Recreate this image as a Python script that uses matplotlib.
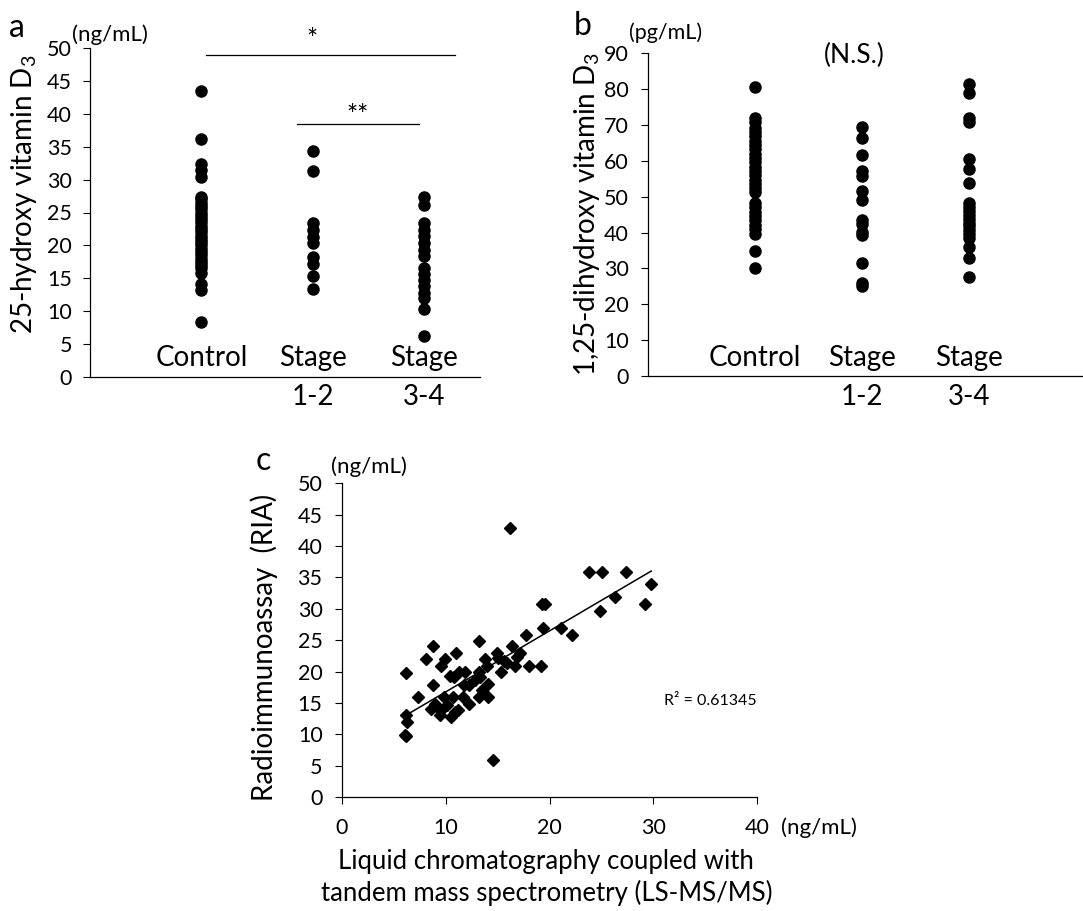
import numpy as np
import matplotlib
matplotlib.use('Agg')
import matplotlib.pyplot as plt
import matplotlib.transforms as mtransforms

plt.rcParams['font.family'] = ['Lato', 'DejaVu Sans']
plt.rcParams['mathtext.fontset'] = 'custom'
plt.rcParams['mathtext.rm'] = 'Lato'
plt.rcParams['mathtext.it'] = 'Lato:italic'

# ---- data ----
groups = ['Control', 'Stage', 'Stage']
group_sub = ['', '1-2', '3-4']

# a: 25-hydroxy vitamin D3 (ng/mL)
a_control = [43.5, 36.2, 32.3, 31.4, 30.4, 27.4, 27.0, 26.5, 26.0, 25.5, 25.0,
             24.5, 24.0, 23.5, 23.0, 22.5, 22.0, 21.5, 21.0, 20.5, 20.0, 19.5,
             19.0, 18.5, 18.0, 17.5, 17.0, 16.5, 15.8, 14.2, 13.2, 8.4]
a_stage12 = [34.3, 31.3, 23.4, 22.3, 21.3, 20.3, 18.3, 17.2, 15.3, 13.3]
a_stage34 = [27.4, 26.2, 23.4, 22.4, 21.4, 20.3, 19.3, 18.4, 16.5, 15.7,
             14.8, 13.8, 12.8, 12.0, 10.4, 6.3]

# b: 1,25-dihydroxy vitamin D3 (pg/mL)
b_control = [80.5, 72.0, 70.8, 69.2, 68.0, 66.8, 65.6, 64.4, 63.2, 62.0, 60.8,
             59.6, 58.4, 57.2, 56.0, 54.8, 53.6, 52.4, 51.4, 48.2, 47.0, 45.8,
             44.6, 43.4, 42.2, 41.0, 39.6, 34.8, 30.2]
b_stage12 = [69.5, 66.3, 61.6, 57.2, 55.8, 51.7, 49.0, 43.5, 42.4, 40.2,
             39.2, 31.4, 26.0, 25.0]
b_stage34 = [81.5, 78.8, 72.0, 70.8, 60.4, 57.7, 53.9, 48.3, 47.2, 46.1,
             45.0, 43.9, 42.8, 41.7, 40.6, 39.5, 38.6, 36.0, 32.8, 27.5]

# c: LC-MS/MS vs RIA (ng/mL)
lcms = [6.2, 6.2, 6.3, 6.1, 6.2, 7.3, 8.1, 8.8, 8.8, 8.6, 9.0, 9.5, 9.9, 9.5,
        9.4, 9.8, 10.1, 10.5, 10.7, 10.8, 11.0, 11.2, 11.3, 11.7, 11.9, 11.8,
        12.2, 12.2, 13.2, 13.2, 13.3, 13.2, 13.5, 13.8, 14.0, 14.1, 14.1, 14.6,
        14.9, 15.3, 15.6, 16.2, 16.4, 16.7, 16.9, 17.2, 17.7, 18.0, 19.2, 19.3,
        19.6, 19.4, 21.1, 22.2, 23.8, 25.1, 24.9, 26.3, 27.4, 29.2, 29.8,
        10.4, 10.9, 12.8, 15.0, 15.9, 9.2]
ria = [19.8, 13.0, 11.9, 9.9, 9.7, 15.9, 22.0, 24.0, 17.9, 14.0, 14.9, 20.9,
       22.0, 13.8, 13.0, 15.9, 14.6, 12.8, 15.9, 19.1, 22.9, 13.8, 19.9, 15.9,
       19.9, 17.9, 17.9, 14.8, 24.8, 19.9, 19.1, 15.9, 17.0, 22.0, 20.9, 18.0,
       15.9, 5.9, 23.0, 19.9, 21.7, 42.9, 24.0, 20.9, 22.3, 23.0, 25.9, 20.9,
       20.9, 30.8, 30.8, 27.0, 27.0, 25.9, 35.9, 35.9, 29.7, 31.9, 35.9, 30.8,
       33.9, 19.3, 13.6, 18.6, 22.2, 21.4, 14.3]
trend_slope = 0.972
trend_intercept = 7.04
r2_text = 'R² = 0.61345'

fig = plt.figure(figsize=(10.83, 9.11), dpi=100)
W, H = 1083.0, 911.0

TICK_FS = 15.5
CAT_FS = 20
LABEL_FS = 20
UNIT_FS = 16


def fx(px):
    return px / W


def fy(py):
    return 1 - py / H


def style_axes(ax, pad):
    for s in ['top', 'right']:
        ax.spines[s].set_visible(False)
    for s in ['left', 'bottom']:
        ax.spines[s].set_linewidth(0.9)
    ax.tick_params(axis='y', direction='out', length=5, width=0.8,
                   labelsize=TICK_FS, pad=pad)


def strip_panel(ax, series, ylim, ystep, y_in, y_out):
    positions = [1, 2, 3]
    for pos, vals in zip(positions, series):
        ax.plot([pos] * len(vals), vals, 'o', color='black', markersize=8,
                linestyle='none', clip_on=False)
    ax.set_ylim(*ylim)
    ax.set_yticks(np.arange(ylim[0], ylim[1] + 1, ystep))
    ax.set_xticks([])
    trans = mtransforms.blended_transform_factory(ax.transData, ax.transAxes)
    for pos, g, sub in zip(positions, groups, group_sub):
        ax.text(pos, y_in, g, transform=trans, ha='center', va='center',
                fontsize=CAT_FS)
        if sub:
            ax.text(pos, y_out, sub, transform=trans, ha='center',
                    va='center', fontsize=CAT_FS)


# ---- panel a ----
ax_a = fig.add_axes([fx(90), fy(377), fx(480 - 90), (377 - 48) / H])
style_axes(ax_a, 8)
strip_panel(ax_a, [a_control, a_stage12, a_stage34], (0, 50), 5, 0.058, -0.06)
ax_a.set_xlim(0, 3.5)
ax_a.plot([1.04, 3.28], [49.0, 49.0], color='black', lw=0.9, clip_on=False)
ax_a.text(1.99, 51.2, '*', ha='center', va='center', fontsize=19)
ax_a.plot([1.86, 2.95], [38.5, 38.5], color='black', lw=0.9)
ax_a.text(2.40, 39.6, '**', ha='center', va='center', fontsize=19)
fig.text(fx(24), fy(194), r'25-hydroxy vitamin D$_\mathregular{3}$',
         rotation=90, ha='center', va='center', fontsize=LABEL_FS)
fig.text(fx(110), fy(35), '(ng/mL)', ha='center', va='center', fontsize=UNIT_FS)
fig.text(fx(17), fy(37), 'a', ha='center', va='baseline', fontsize=23)

# ---- panel b ----
ax_b = fig.add_axes([fx(648), fy(376), fx(1083 - 648), (376 - 53.3) / H])
style_axes(ax_b, 9)
strip_panel(ax_b, [b_control, b_stage12, b_stage34], (0, 90), 10, 0.055, -0.064)
ax_b.set_xlim(0, 435 / 107.0)
ax_b.text(1.93, 89.5, '(N.S.)', ha='center', va='center', fontsize=19)
fig.text(fx(587), fy(214), r'1,25-dihydroxy vitamin D$_\mathregular{3}$',
         rotation=90, ha='center', va='center', fontsize=LABEL_FS)
fig.text(fx(666), fy(33), '(pg/mL)', ha='center', va='center', fontsize=15.5)
fig.text(fx(583), fy(35), 'b', ha='center', va='baseline', fontsize=23)

# ---- panel c ----
ax_c = fig.add_axes([fx(342), fy(797), fx(757 - 342), (797 - 483.3) / H])
style_axes(ax_c, 9)
ax_c.plot(lcms, ria, 'D', color='black', markersize=5.8, linestyle='none')
xfit = np.array([min(lcms) + 0.4, max(lcms)])
ax_c.plot(xfit, trend_slope * xfit + trend_intercept, color='black', lw=1.1)
ax_c.set_xlim(0, 40)
ax_c.set_ylim(0, 50)
ax_c.set_xticks(np.arange(0, 41, 10))
ax_c.set_yticks(np.arange(0, 51, 5))
ax_c.tick_params(axis='x', direction='out', length=5, width=0.8,
                 labelsize=TICK_FS, pad=10)
ax_c.text(31.0, 15.3, r2_text, ha='left', va='center', fontsize=11.5)
fig.text(fx(264), fy(647), 'Radioimmunoassay  (RIA)', rotation=90,
         ha='center', va='center', fontsize=LABEL_FS)
fig.text(fx(546), fy(861), 'Liquid chromatography coupled with',
         ha='center', va='center', fontsize=18.5)
fig.text(fx(547), fy(893), 'tandem mass spectrometry (LS-MS/MS)',
         ha='center', va='center', fontsize=18.5)
fig.text(fx(819), fy(828), '(ng/mL)', ha='center', va='center', fontsize=UNIT_FS)
fig.text(fx(369), fy(467), '(ng/mL)', ha='center', va='center', fontsize=UNIT_FS)
fig.text(fx(263), fy(470), 'c', ha='center', va='baseline', fontsize=23)

fig.savefig('out.png', dpi=100)
